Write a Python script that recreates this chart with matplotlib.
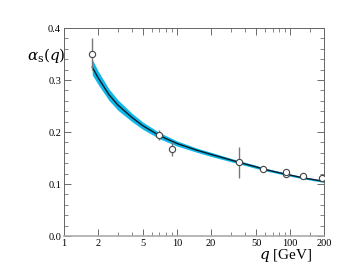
import matplotlib
matplotlib.use("Agg")
import matplotlib.pyplot as plt
from matplotlib.ticker import FixedLocator, NullFormatter

plt.rcParams["font.family"] = ["Liberation Serif", "DejaVu Serif"]
plt.rcParams["mathtext.fontset"] = "dejavuserif"

# measurements
q_data = [1.78, 7.0, 9.1, 35.0, 58.0, 91.2, 91.2, 130.0, 192.0]
a_data = [0.350, 0.194, 0.167, 0.142, 0.129, 0.1195, 0.1225, 0.115, 0.111]
a_err = [0.031, 0.010, 0.013, 0.030, 0.006, 0.003, 0.004, 0.006, 0.006]

# running coupling curve and its band (half width)
q_curve = [1.78, 2.0, 2.5, 3.0, 4.0, 5.0, 7.0, 10.0, 15.0, 20.0, 35.0, 50.0,
           60.0, 91.2, 130.0, 200.0]
a_curve = [0.325, 0.305, 0.272, 0.252, 0.228, 0.212, 0.193, 0.178, 0.165,
           0.157, 0.142, 0.133, 0.128, 0.119, 0.112, 0.105]
a_band = [0.015, 0.013, 0.011, 0.010, 0.008, 0.007, 0.006, 0.005, 0.004,
          0.004, 0.003, 0.003, 0.0025, 0.0022, 0.002, 0.002]

x_ticks = [1, 2, 5, 10, 20, 50, 100, 200]
x_minor = [3, 4, 6, 7, 8, 9, 30, 40, 60, 70, 80, 90, 150]

fig = plt.figure(figsize=(3.38, 2.67), dpi=100)
ax = fig.add_axes([0.189, 0.116, 0.770, 0.779])

lo = [a - b for a, b in zip(a_curve, a_band)]
hi = [a + b for a, b in zip(a_curve, a_band)]
ax.fill_between(q_curve, lo, hi, color="#10b8e8", lw=0, zorder=1)
ax.plot(q_curve, a_curve, color="#0a1a2a", lw=1.0, zorder=2)

ax.errorbar(q_data, a_data, yerr=a_err, fmt="o", ms=4.5, mfc="white",
            mec="#444444", mew=0.8, ecolor="#777777", elinewidth=1.0,
            capsize=0, zorder=3)

ax.set_xscale("log")
ax.set_xlim(1, 200)
ax.set_ylim(0, 0.4)
ax.xaxis.set_major_locator(FixedLocator(x_ticks))
ax.xaxis.set_minor_locator(FixedLocator(x_minor))
ax.xaxis.set_minor_formatter(NullFormatter())
ax.set_xticklabels([str(t) for t in x_ticks])
ax.set_yticks([0.0, 0.1, 0.2, 0.3, 0.4])
ax.set_yticklabels(["0.0", "0.1", "0.2", "0.3", "0.4"])
ax.set_yticks([0.02 * i for i in range(21)], minor=True)

ax.tick_params(which="both", direction="in", top=True, right=True,
               labelsize=7.5, color="#555555", pad=2)
ax.tick_params(which="major", length=5, width=0.6)
ax.tick_params(which="minor", length=3, width=0.5)
for s in ax.spines.values():
    s.set_color("#666666")
    s.set_linewidth(0.7)
ax.spines["bottom"].set_color("#aaaaaa")
ax.spines["bottom"].set_linewidth(1.2)

fig.text(0.08, 0.794, r"$\alpha_\mathrm{s}(q)$", fontsize=11, ha="left",
         va="center")
fig.text(0.923, 0.012, r"$q$ [GeV]", fontsize=11, ha="right", va="bottom")

fig.savefig("out.png", dpi=100)
